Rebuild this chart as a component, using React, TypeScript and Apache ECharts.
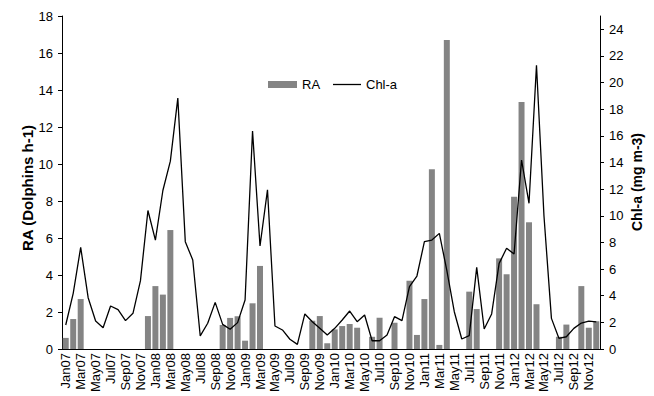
import React, { useEffect, useRef } from 'react';
import * as echarts from 'echarts';

const categories = [
  'Jan07','Feb07','Mar07','Apr07','May07','Jun07','Jul07','Aug07','Sep07','Oct07','Nov07','Dec07',
  'Jan08','Feb08','Mar08','Apr08','May08','Jun08','Jul08','Aug08','Sep08','Oct08','Nov08','Dec08',
  'Jan09','Feb09','Mar09','Apr09','May09','Jun09','Jul09','Aug09','Sep09','Oct09','Nov09','Dec09',
  'Jan10','Feb10','Mar10','Apr10','May10','Jun10','Jul10','Aug10','Sep10','Oct10','Nov10','Dec10',
  'Jan11','Feb11','Mar11','Apr11','May11','Jun11','Jul11','Aug11','Sep11','Oct11','Nov11','Dec11',
  'Jan12','Feb12','Mar12','Apr12','May12','Jun12','Jul12','Aug12','Sep12','Oct12','Nov12','Dec12',
];

// RA (Dolphins h-1), left axis
const raValues: (number | null)[] = [
  0.6, 1.62, 2.7, null, null, null, null, null, null, null, null, 1.78,
  3.4, 2.94, 6.43, null, null, null, null, null, null, 1.3, 1.68, 1.77,
  0.45, 2.47, 4.49, null, null, null, null, null, null, 1.53, 1.78, 0.31,
  1.06, 1.24, 1.35, 1.15, null, 0.66, 1.69, null, 1.42, null, 3.69, 0.76,
  2.7, 9.71, 0.22, 16.7, null, null, 3.1, 2.16, null, null, 4.9, 4.04,
  8.23, 13.35, 6.85, 2.42, null, null, 0.66, 1.32, null, 3.4, 1.15, 1.5,
];

// Chl-a (mg m-3), right axis
const chlValues: number[] = [
  1.8, 4.18, 7.63, 3.85, 2.1, 1.6, 3.23, 2.95, 2.13, 2.68, 5.13, 10.4,
  8.18, 11.9, 14.1, 18.84, 8.06, 6.68, 0.98, 1.93, 3.5, 1.85, 1.48, 1.98,
  3.68, 16.37, 7.73, 11.95, 1.73, 1.43, 0.73, 0.35, 2.63, 2.05, 1.55, 1.05,
  1.55, 2.18, 2.85, 2.05, 2.55, 0.62, 0.62, 1.05, 2.43, 2.13, 4.68, 5.48,
  8.06, 8.18, 8.68, 5.9, 2.8, 0.75, 1.0, 6.13, 1.5, 2.63, 6.43, 7.56,
  7.13, 14.19, 10.94, 21.3, 10.0, 2.3, 0.8, 0.92, 1.55, 1.95, 2.1, 2.03,
];

const leftTitle = 'RA (Dolphins h-1)';
const rightTitle = 'Chl-a (mg m-3)';

const FONT = 'Liberation Sans, Arial, Helvetica, sans-serif';

export default function App() {
  const ref = useRef<HTMLDivElement>(null);

  useEffect(() => {
    if (!ref.current) return;
    const chart = echarts.init(ref.current, undefined, { renderer: 'svg' });
    const legendText = { fontSize: 13, color: '#000', fontFamily: FONT };
    chart.setOption({
      animation: false,
      backgroundColor: '#ffffff',
      textStyle: { fontFamily: FONT, color: '#000' },
      legend: [
        {
          left: 263,
          top: 73,
          itemWidth: 29,
          itemHeight: 7,
          icon: 'rect',
          textStyle: legendText,
          data: ['RA'],
        },
        {
          left: 328,
          top: 73,
          itemWidth: 28,
          itemHeight: 1.3,
          icon: 'rect',
          textStyle: legendText,
          data: ['Chl-a'],
        },
      ],
      graphic: [
        {
          type: 'text',
          x: 27,
          y: 188,
          rotation: Math.PI / 2,
          style: {
            text: leftTitle,
            font: `bold 15px ${FONT}`,
            fill: '#000',
            textAlign: 'center',
            textVerticalAlign: 'middle',
          },
        },
        {
          type: 'text',
          x: 637,
          y: 182,
          rotation: Math.PI / 2,
          style: {
            text: rightTitle,
            font: `bold 14px ${FONT}`,
            fill: '#000',
            textAlign: 'center',
            textVerticalAlign: 'middle',
          },
        },
      ],
      grid: { left: 62, right: 54, top: 16, bottom: 47 },
      xAxis: {
        type: 'category',
        data: categories,
        axisLine: { lineStyle: { color: '#000', width: 1 } },
        axisTick: { show: false },
        axisLabel: {
          rotate: 90,
          interval: 1,
          fontSize: 13,
          color: '#000',
          margin: 4,
          fontFamily: FONT,
        },
        splitLine: { show: false },
      },
      yAxis: [
        {
          type: 'value',
          position: 'left',
          min: 0,
          max: 18,
          interval: 2,
          axisLine: { show: true, lineStyle: { color: '#000', width: 1 } },
          axisTick: { show: true, length: 4, lineStyle: { color: '#000' } },
          axisLabel: { fontSize: 13, color: '#000', margin: 9, fontFamily: FONT },
          splitLine: { show: false },
        },
        {
          type: 'value',
          position: 'right',
          min: 0,
          max: 25,
          interval: 2,
          axisLine: { show: true, lineStyle: { color: '#000', width: 1 } },
          axisTick: { show: true, length: 4, lineStyle: { color: '#000' } },
          axisLabel: {
            fontSize: 13,
            color: '#000',
            margin: 9,
            fontFamily: FONT,
            showMaxLabel: false,
          },
          splitLine: { show: false },
        },
      ],
      series: [
        {
          name: 'RA',
          type: 'bar',
          yAxisIndex: 0,
          data: raValues,
          barCategoryGap: '20%',
          itemStyle: { color: '#848484' },
        },
        {
          name: 'Chl-a',
          type: 'line',
          yAxisIndex: 1,
          data: chlValues,
          symbol: 'none',
          showSymbol: false,
          lineStyle: { color: '#000', width: 1.3 },
          itemStyle: { color: '#000' },
        },
      ],
    });
    return () => chart.dispose();
  }, []);

  return (
    <div
      ref={ref}
      style={{ position: 'fixed', left: 0, top: 0, width: 654, height: 396, background: '#fff' }}
    />
  );
}
